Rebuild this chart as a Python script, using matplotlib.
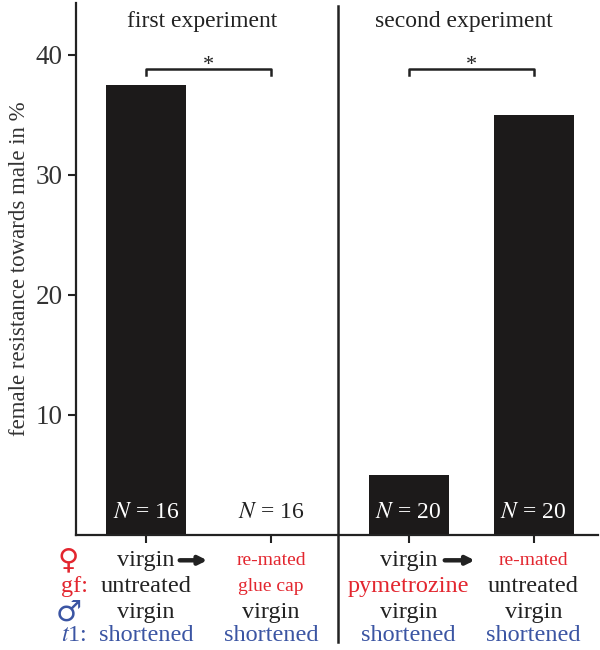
import matplotlib
matplotlib.use('Agg')
import matplotlib.pyplot as plt
from matplotlib.transforms import blended_transform_factory
from matplotlib.lines import Line2D

plt.rcParams['font.family'] = ['Liberation Serif', 'DejaVu Serif']
plt.rcParams['mathtext.fontset'] = 'stix'

# data
positions = [0, 1, 2.1, 3.1]
resistance = [37.5, 0, 5, 35]
n_labels = ['16', '16', '20', '20']
experiments = ['first experiment', 'second experiment']
female_state = ['virgin', 're-mated', 'virgin', 're-mated']
female_gf = ['untreated', 'glue cap', 'pymetrozine', 'untreated']
male_state = ['virgin', 'virgin', 'virgin', 'virgin']
male_t1 = ['shortened', 'shortened', 'shortened', 'shortened']

red = '#e3262f'
blue = '#3b55a3'
dark = '#1c1a1a'

fig = plt.figure(figsize=(6, 6.5), dpi=100)
ax = fig.add_axes([76 / 600, 115 / 650, 522 / 600, 532 / 650])

ax.bar(positions, resistance, width=0.64, color=dark)
ax.set_xlim(-0.56, 3.616)
ax.set_ylim(0, 44.3)
ax.set_yticks([10, 20, 30, 40])
ax.set_xticks(positions)
ax.set_xticklabels([])
ax.tick_params(axis='y', labelsize=19.5, length=6, width=1.5, color='#222', labelcolor='#333')
ax.tick_params(axis='x', length=6, width=1.5, color='#222')
for s in ['top', 'right']:
    ax.spines[s].set_visible(False)
for s in ['left', 'bottom']:
    ax.spines[s].set_linewidth(1.6)
    ax.spines[s].set_color('#222')
ax.set_ylabel('female resistance towards male in %', fontsize=16.5, color='#333', labelpad=4)

# N labels
for i, (x, n) in enumerate(zip(positions, n_labels)):
    c = 'white' if resistance[i] > 2 else '#222'
    ax.text(x, 1.9, '$N$ = ' + n, ha='center', va='center', fontsize=17, color=c)

# experiment titles
ax.text(0.45, 42.75, experiments[0], ha='center', va='center', fontsize=17, color='#222')
ax.text(2.54, 42.75, experiments[1], ha='center', va='center', fontsize=17, color='#222')

# significance brackets
for a, b in [(positions[0], positions[1]), (positions[2], positions[3])]:
    ax.plot([a, a, b, b], [38.3, 38.8, 38.8, 38.3], color='#222', lw=1.8)
    ax.text((a + b) / 2, 39.1, '*', ha='center', va='center', fontsize=16, color='#222')

# divider between experiments
trans_fig = blended_transform_factory(ax.transData, fig.transFigure)
fig.add_artist(Line2D([1.536, 1.536], [8 / 650, 644 / 650], transform=trans_fig,
                      color='#222', lw=1.8))

# condition labels below the axis
rows_y = [0.138, 0.097, 0.058, 0.023]
for i, x in enumerate(positions):
    small = female_state[i] == 're-mated'
    ax.text(x, rows_y[0], female_state[i], transform=trans_fig, ha='center', va='center',
            fontsize=14 if small else 17.5, color=red if small else '#222')
    gf_red = female_gf[i] in ('glue cap', 'pymetrozine')
    ax.text(x, rows_y[1], female_gf[i], transform=trans_fig, ha='center', va='center',
            fontsize=14 if female_gf[i] == 'glue cap' else 17.5,
            color=red if gf_red else '#222')
    ax.text(x, rows_y[2], male_state[i], transform=trans_fig, ha='center', va='center',
            fontsize=17.5, color='#222')
    ax.text(x, rows_y[3], male_t1[i], transform=trans_fig, ha='center', va='center',
            fontsize=17.5, color=blue)

# arrows from virgin to re-mated
for x0, x1 in [(0.27, 0.49), (2.39, 2.63)]:
    ax.annotate('', xy=(x1, rows_y[0]), xytext=(x0, rows_y[0]),
                xycoords=trans_fig, textcoords=trans_fig,
                arrowprops=dict(arrowstyle='-|>', color='#222', lw=3.2,
                                mutation_scale=12, shrinkA=0, shrinkB=0))

# row labels
fig.text(68 / 600, rows_y[0], '♀', ha='center', va='center', fontsize=21, color=red,
         family=['DejaVu Sans'])
fig.text(61 / 600, rows_y[1], 'gf:', ha='left', va='center', fontsize=17.5, color=red)
fig.text(69 / 600, rows_y[2], '♂', ha='center', va='center', fontsize=21, color=blue,
         family=['DejaVu Sans'])
fig.text(61 / 600, rows_y[3], '$t$1:', ha='left', va='center', fontsize=17.5, color=blue)

fig.savefig('out.png', dpi=100)
